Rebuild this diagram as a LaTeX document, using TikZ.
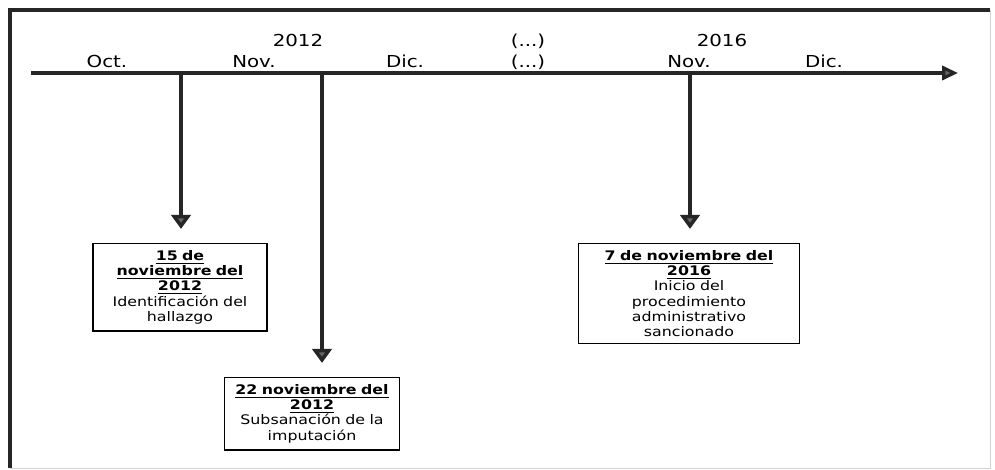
\documentclass[tikz,border=0pt]{standalone}
\usepackage{fontspec}
\setmainfont[FakeStretch=1.2]{DejaVu Sans}
\usetikzlibrary{arrows.meta,positioning}

\begin{document}
\begin{tikzpicture}[
  x=0.02cm, y=-0.02cm,
  every node/.style={inner sep=0pt},
  month/.style={anchor=base,font=\fontsize{9.4}{11}\selectfont},
  eventbox/.style={draw,thick,anchor=north,align=center,
   font=\fontsize{7.5}{8.6}\selectfont,inner sep=4pt},
  timeline/.style={line width=1.8pt,black!85,
   -{Triangle[length=9pt,width=8pt,fill=black!60]}},
  drop/.style={line width=2.2pt,black!85,shorten >=8pt,
   -{Triangle[length=8pt,width=11pt,fill=black!60]}}
  ]
  \useasboundingbox (0,0) rectangle (995,470);
  % frame
  \draw[line width=2pt,black!85] (10,468) -- (10,10) -- (990,10);
  \draw[gray!35] (10,468) -- (990,468) -- (990,10);

  % time axis
  \coordinate (tl0) at (31,73);
  \coordinate (tl1) at (958,73);
  \draw[timeline] (tl0) -- (tl1);

  \node[month] (y2012) at (298,47) {2012};
  \node[month] (oct) at (107,68) {Oct.};
  \node[month] (nov1) at (254,68) {Nov.};
  \node[month] (dic1) at (405,68) {Dic.};
  \node[month] (gap1) at (528,47) {(...)};
  \node[month] (gap2) at (528,68) {(...)};
  \node[month] (y2016) at (722,47) {2016};
  \node[month] (nov2) at (689,68) {Nov.};
  \node[month] (dic2) at (824,68) {Dic.};

  % events
  \coordinate (t15) at (181,73);
  \coordinate (t22) at (322,73);
  \coordinate (t7) at (690,73);

  \node[eventbox,text width=3.2cm] (ev15) at (180,243)
   {\underline{\textbf{15 de}}\\ \underline{\textbf{noviembre del}}\\
    \underline{\textbf{2012}}\\ Identificación del\\ hallazgo};
  \node[eventbox,text width=3.22cm] (ev22) at (312,377)
   {\underline{\textbf{22 noviembre del}}\\ \underline{\textbf{2012}}\\
    Subsanación de la\\ imputación};
  \node[eventbox,text width=4.14cm] (ev7) at (689,243)
   {\underline{\textbf{7 de noviembre del}}\\ \underline{\textbf{2016}}\\
    Inicio del\\ procedimiento\\ administrativo\\ sancionado};

  \draw[drop] (t15) -- (t15 |- ev15.north);
  \draw[drop] (t22) -- (t22 |- ev22.north);
  \draw[drop] (t7) -- (t7 |- ev7.north);
\end{tikzpicture}
\end{document}
